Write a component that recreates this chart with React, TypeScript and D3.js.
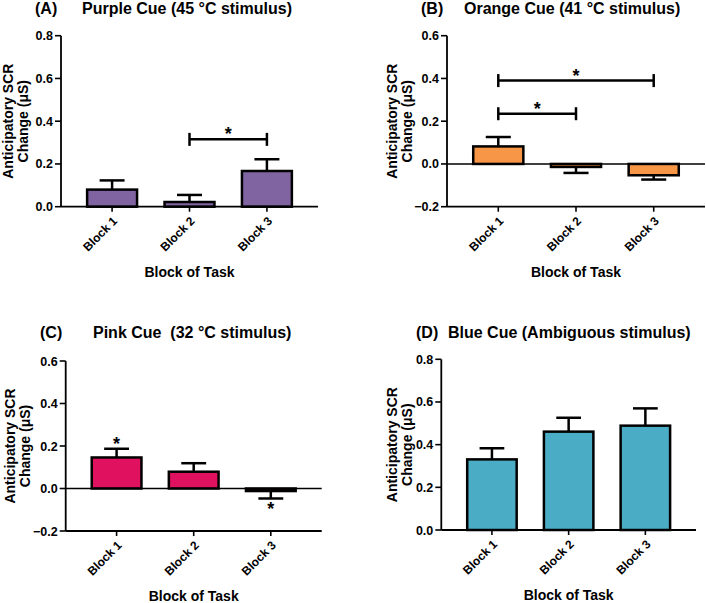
import React from "react";
import * as d3 from "d3";

const categories = ["Block 1", "Block 2", "Block 3"];
const purpleMeans = [0.08, 0.022, 0.167];
const purpleSEM = [0.043, 0.033, 0.055];
const orangeMeans = [0.082, -0.014, -0.053];
const orangeSEM = [0.044, 0.028, 0.02];
const pinkMeans = [0.146, 0.079, -0.012];
const pinkSEM = [0.041, 0.04, 0.035];
const blueMeans = [0.331, 0.461, 0.489];
const blueSEM = [0.052, 0.065, 0.081];
const ticksPositive = [0, 0.2, 0.4, 0.6, 0.8];
const ticksSigned = [-0.2, 0, 0.2, 0.4, 0.6];
const purpleBrackets = [{ from: 1, to: 2, value: 0.315 }];
const orangeBrackets = [
  { from: 0, to: 2, value: 0.39 },
  { from: 0, to: 1, value: 0.235 },
];
const pinkStars = [
  { index: 0, side: "above" },
  { index: 2, side: "below" },
];

const FONT = "'Liberation Sans', Arial, Helvetica, sans-serif";

type PanelProps = {
  tag: string;
  title: string;
  tagX: number;
  titleX: number;
  titleY: number;
  x0: number;
  x1: number;
  yTop: number;
  yBot: number;
  domain: [number, number];
  ticks: number[];
  means: number[];
  sem: number[];
  color: string;
  brackets?: { from: number; to: number; value: number }[];
  stars?: { index: number; side: string }[];
  yl1: number;
  yl2: number;
};

function Panel(p: PanelProps) {
  const x = d3
    .scaleBand<string>()
    .domain(categories)
    .range([p.x0, p.x1])
    .paddingInner(0.355)
    .paddingOuter(0.3375);
  const y = d3.scaleLinear().domain(p.domain).range([p.yBot, p.yTop]);
  const bw = x.bandwidth();
  const cx = (c: string) => (x(c) as number) + bw / 2;
  const y0 = y(0);
  const cy = (p.yTop + p.yBot) / 2;
  const fmt = d3.format(".1f");
  return (
    <g>
      <text x={p.tagX} y={p.titleY} fontSize={16} fontWeight="bold" fontFamily={FONT}>
        {p.tag}
      </text>
      <text x={p.titleX} y={p.titleY} fontSize={16} fontWeight="bold" fontFamily={FONT} style={{ whiteSpace: "pre" }}>
        {p.title}
      </text>
      {/* y label */}
      <text
        transform={`translate(${p.yl1},${cy}) rotate(-90)`}
        textAnchor="middle"
        fontSize={14}
        fontWeight="bold"
        fontFamily={FONT}
      >
        Anticipatory SCR
      </text>
      <text
        transform={`translate(${p.yl2},${cy}) rotate(-90)`}
        textAnchor="middle"
        fontSize={14}
        fontWeight="bold"
        fontFamily={FONT}
      >
        Change (μS)
      </text>
      {/* bars */}
      {categories.map((c, i) => {
        const v = p.means[i];
        const e = p.sem[i];
        const top = Math.min(y(v), y0);
        const h = Math.abs(y(v) - y0);
        const yErr = v >= 0 ? y(v + e) : y(v - e);
        return (
          <g key={c}>
            <line x1={cx(c)} x2={cx(c)} y1={y(v)} y2={yErr} stroke="#000" strokeWidth={2.5} />
            <line x1={cx(c) - bw / 4} x2={cx(c) + bw / 4} y1={yErr} y2={yErr} stroke="#000" strokeWidth={2.5} />
            <rect x={x(c)} y={top} width={bw} height={h} fill={p.color} stroke="#000" strokeWidth={2.5} />
          </g>
        );
      })}
      {/* zero line */}
      {p.domain[0] < 0 && (
        <line x1={p.x0} x2={p.x1} y1={y0} y2={y0} stroke="#000" strokeWidth={1.6} />
      )}
      {/* y axis */}
      <line x1={p.x0} x2={p.x0} y1={p.yTop} y2={p.yBot} stroke="#000" strokeWidth={1.8} />
      {p.ticks.map((t) => (
        <g key={t}>
          <line x1={p.x0 - 6} x2={p.x0} y1={y(t)} y2={y(t)} stroke="#000" strokeWidth={1.6} />
          <text
            x={p.x0 - 8}
            y={y(t)}
            dy="0.36em"
            textAnchor="end"
            fontSize={12.5}
            fontWeight="bold"
            fontFamily={FONT}
          >
            {fmt(t)}
          </text>
        </g>
      ))}
      {/* x axis */}
      <line x1={p.x0} x2={p.x1} y1={p.yBot} y2={p.yBot} stroke="#000" strokeWidth={1.8} />
      {categories.map((c) => (
        <g key={c}>
          <line x1={cx(c)} x2={cx(c)} y1={p.yBot} y2={p.yBot + 5} stroke="#000" strokeWidth={1.6} />
          <text
            transform={`translate(${cx(c) + 6},${p.yBot + 15}) rotate(-45)`}
            textAnchor="end"
            fontSize={12}
            fontWeight="bold"
            fontFamily={FONT}
          >
            {c}
          </text>
        </g>
      ))}
      <text
        x={(p.x0 + p.x1) / 2}
        y={p.yBot + 70}
        textAnchor="middle"
        fontSize={14}
        fontWeight="bold"
        fontFamily={FONT}
      >
        Block of Task
      </text>
      {/* significance brackets */}
      {(p.brackets || []).map((b, k) => {
        const xa = cx(categories[b.from]);
        const xb = cx(categories[b.to]);
        const yy = y(b.value);
        return (
          <g key={k}>
            <line x1={xa} x2={xb} y1={yy} y2={yy} stroke="#000" strokeWidth={2.5} />
            <line x1={xa} x2={xa} y1={yy - 6.5} y2={yy + 6.5} stroke="#000" strokeWidth={2.5} />
            <line x1={xb} x2={xb} y1={yy - 6.5} y2={yy + 6.5} stroke="#000" strokeWidth={2.5} />
            <text
              x={(xa + xb) / 2}
              y={yy + 1}
              textAnchor="middle"
              fontSize={18}
              fontWeight="bold"
              fontFamily={FONT}
            >
              *
            </text>
          </g>
        );
      })}
      {(p.stars || []).map((s, k) => {
        const c = categories[s.index];
        const v = p.means[s.index];
        const e = p.sem[s.index];
        const yE = s.side === "above" ? y(v + e) : y(v - e);
        return (
          <text
            key={k}
            x={cx(c)}
            y={s.side === "above" ? yE + 1 : yE + 17}
            textAnchor="middle"
            fontSize={18}
            fontWeight="bold"
            fontFamily={FONT}
          >
            *
          </text>
        );
      })}
    </g>
  );
}

export default function App() {
  return (
    <svg
      width={706}
      height={603}
      style={{ position: "absolute", left: 0, top: 0, background: "#fff" }}
    >
      <rect width={706} height={603} fill="#fff" />
      <Panel
        tag="(A)"
        title="Purple Cue (45 °C stimulus)"
        tagX={35}
        titleX={82}
        titleY={14}
        x0={61}
        x1={318}
        yTop={35.7}
        yBot={206.7}
        domain={[0, 0.8]}
        ticks={ticksPositive}
        means={purpleMeans}
        sem={purpleSEM}
        color="#8064a2"
        brackets={purpleBrackets}
        yl1={13}
        yl2={28}
      />
      <Panel
        tag="(B)"
        title="Orange Cue (41 °C stimulus)"
        tagX={421}
        titleX={464}
        titleY={14}
        x0={447}
        x1={705}
        yTop={35.7}
        yBot={206.7}
        domain={[-0.2, 0.6]}
        ticks={ticksSigned}
        means={orangeMeans}
        sem={orangeSEM}
        color="#f79646"
        brackets={orangeBrackets}
        yl1={397}
        yl2={412}
      />
      <Panel
        tag="(C)"
        title="Pink Cue  (32 °C stimulus)"
        tagX={40}
        titleX={93}
        titleY={338}
        x0={65.7}
        x1={321.7}
        yTop={361}
        yBot={531}
        domain={[-0.2, 0.6]}
        ticks={ticksSigned}
        means={pinkMeans}
        sem={pinkSEM}
        color="#e0115f"
        stars={pinkStars}
        yl1={15}
        yl2={30}
      />
      <Panel
        tag="(D)"
        title="Blue Cue (Ambiguous stimulus)"
        tagX={416}
        titleX={448}
        titleY={338}
        x0={441.3}
        x1={696}
        yTop={359.3}
        yBot={530}
        domain={[0, 0.8]}
        ticks={ticksPositive}
        means={blueMeans}
        sem={blueSEM}
        color="#4bacc6"
        yl1={397}
        yl2={412}
      />
    </svg>
  );
}
